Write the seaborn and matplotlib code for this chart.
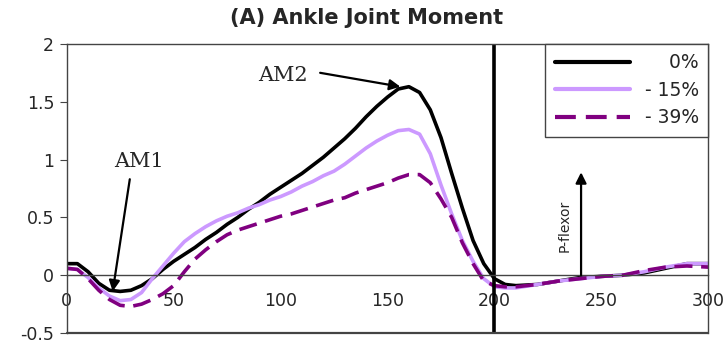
import numpy as np
import pandas as pd
import matplotlib
matplotlib.use("Agg")
import matplotlib.pyplot as plt
import seaborn as sns

# data (% of stance / time axis)
x = [0, 5, 10, 15, 20, 25, 30, 35, 40, 45, 50, 55, 60, 65, 70, 75, 80, 85, 90, 95,
     100, 105, 110, 115, 120, 125, 130, 135, 140, 145, 150, 155, 160, 165, 170, 175,
     180, 185, 190, 195, 200, 205, 210, 220, 230, 240, 250, 260, 270, 280, 290, 300]
m_0 = [0.10, 0.10, 0.03, -0.07, -0.13, -0.14, -0.13, -0.09, -0.03, 0.05, 0.12, 0.18,
       0.24, 0.31, 0.37, 0.44, 0.50, 0.57, 0.63, 0.70, 0.76, 0.82, 0.88, 0.95, 1.02,
       1.10, 1.18, 1.27, 1.37, 1.46, 1.54, 1.61, 1.63, 1.58, 1.43, 1.19, 0.88, 0.58,
       0.30, 0.10, -0.03, -0.08, -0.09, -0.08, -0.05, -0.02, -0.01, 0.00, 0.02, 0.06,
       0.10, 0.10]
m_15 = [0.06, 0.05, -0.02, -0.11, -0.18, -0.22, -0.21, -0.15, -0.03, 0.08, 0.19, 0.29,
        0.36, 0.42, 0.47, 0.51, 0.54, 0.58, 0.61, 0.65, 0.68, 0.72, 0.77, 0.81, 0.86,
        0.90, 0.96, 1.03, 1.10, 1.16, 1.21, 1.25, 1.26, 1.22, 1.05, 0.78, 0.53, 0.30,
        0.12, -0.03, -0.10, -0.11, -0.11, -0.08, -0.05, -0.03, -0.01, 0.00, 0.03, 0.07,
        0.10, 0.10]
m_39 = [0.06, 0.05, -0.03, -0.13, -0.21, -0.26, -0.27, -0.25, -0.21, -0.16, -0.09, 0.03,
        0.14, 0.22, 0.29, 0.35, 0.39, 0.42, 0.45, 0.48, 0.51, 0.53, 0.56, 0.59, 0.62,
        0.65, 0.67, 0.71, 0.74, 0.77, 0.80, 0.84, 0.87, 0.87, 0.80, 0.66, 0.50, 0.28,
        0.10, -0.05, -0.09, -0.10, -0.10, -0.08, -0.05, -0.03, -0.01, 0.00, 0.04, 0.07,
        0.08, 0.07]
labels = ["    0%", "- 15%", "- 39%"]
colors = ["black", "#CC99FF", "#800080"]

sns.set_style("white")
plt.rcParams['font.family'] = ['DejaVu Sans']

fig = plt.figure(figsize=(7.25, 3.43), dpi=100)
ax = fig.add_axes([0.092, 0.029, 0.885, 0.843])

for y, lab, c in zip([m_0, m_15, m_39], labels, colors):
    sns.lineplot(x=x, y=y, ax=ax, color=c, lw=2.6, label=lab, sort=False)
ax.lines[-1].set_dashes([5, 2.4])

ax.axvline(200, color="black", lw=2.6)

ax.set_xlim(0, 300)
ax.set_ylim(-0.5, 2)
ax.set_xticks([0, 50, 100, 150, 200, 250, 300])
ax.set_yticks([-0.5, 0, 0.5, 1, 1.5, 2])
ax.set_yticklabels(["-0.5", "0", "0.5", "1", "1.5", "2"])

# x axis sits on y = 0, box still closed at the bottom
for s in ax.spines.values():
    s.set_color("#444444")
    s.set_linewidth(1.0)
ax.spines['bottom'].set_position(('data', 0))
ax.axhline(-0.5, color="#444444", lw=1.6, clip_on=False)
ax.tick_params(axis='x', direction='in', length=4, pad=12, labelsize=12.5, color="#444444")
ax.tick_params(axis='y', direction='out', length=5, pad=4, labelsize=12.5, color="#444444", left=True)

fig.text(0.505, 0.948, "(A) Ankle Joint Moment", ha="center", va="center",
         fontsize=15, fontweight="bold")

# annotations
arrow = dict(arrowstyle="-|>", color="black", lw=1.6, mutation_scale=16, shrinkA=0, shrinkB=0)
ax.text(34, 0.98, "AM1", family="DejaVu Serif", fontsize=15, ha="center", va="center")
ax.annotate("", xy=(21.5, -0.14), xytext=(29.5, 0.83), arrowprops=arrow)
ax.text(101, 1.73, "AM2", family="DejaVu Serif", fontsize=15, ha="center", va="center")
ax.annotate("", xy=(156, 1.63), xytext=(118.5, 1.75), arrowprops=arrow)
ax.text(233, 0.43, "P-flexor", rotation=90, fontsize=10, ha="center", va="center")
ax.annotate("", xy=(240.5, 0.89), xytext=(240.5, 0.0), arrowprops=arrow)

leg = ax.legend(loc="upper right", borderaxespad=0, fontsize=13.5, handlelength=4.0,
                handletextpad=0.8, labelspacing=0.45, borderpad=0.5, fancybox=False,
                framealpha=1, edgecolor="#444444")
leg.get_frame().set_linewidth(1.0)
for h in leg.get_lines():
    h.set_linewidth(3)

fig.savefig("out.png", dpi=100)
